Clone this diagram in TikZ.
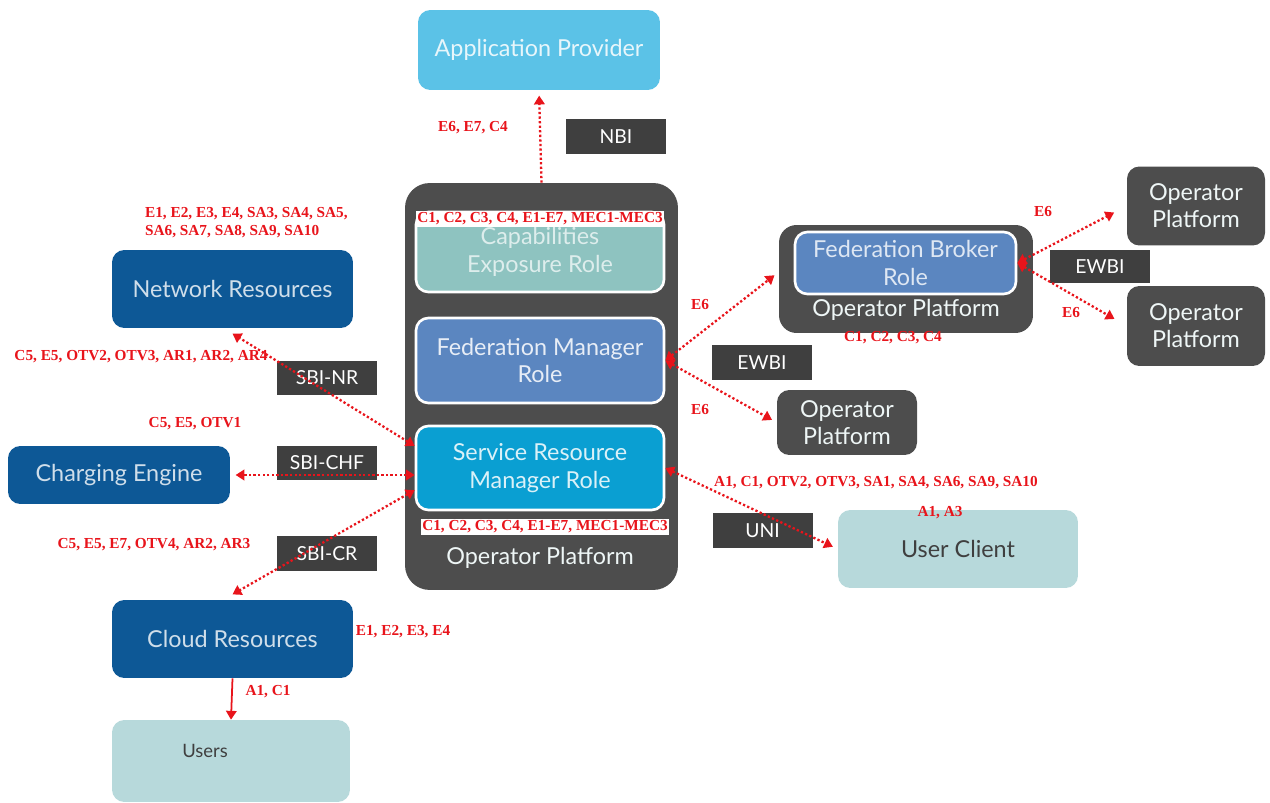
\documentclass[tikz,border=0pt]{standalone}
\usepackage{fontspec}
\setsansfont{Lato}
\newfontfamily\lblfont{Liberation Serif}
\usetikzlibrary{arrows.meta}
\definecolor{appblue}{HTML}{5BC2E7}
\definecolor{opgray}{HTML}{4D4D4D}
\definecolor{ifgray}{HTML}{3F3F3F}
\definecolor{capteal}{HTML}{8EC3C0}
\definecolor{fedblue}{HTML}{5B86C0}
\definecolor{srmblue}{HTML}{0A9FD2}
\definecolor{navy}{HTML}{0D5896}
\definecolor{paleteal}{HTML}{B7D9DB}
\definecolor{lblred}{HTML}{E8141B}

\begin{document}
\begin{tikzpicture}
[x=0.02cm,y=-0.02cm]
\tikzset{box/.style={rounded corners=7pt, align=center, text=white, font=\sffamily\fontsize{13.3}{15.5}\selectfont, inner sep=0pt}}
\tikzset{role/.style={box, draw=white, line width=1.5pt, minimum width=4.96cm}}
\tikzset{iface/.style={fill=ifgray, text=white, font=\sffamily\fontsize{11}{12}\selectfont, minimum width=2cm, minimum height=0.7cm, inner sep=0pt}}
\tikzset{lbl/.style={text=lblred, font=\lblfont\bfseries\fontsize{8.7}{10.5}\selectfont, inner sep=1pt}}
\tikzset{link/.style={lblred, line width=1.3pt, dash pattern=on 1.3pt off 1.3pt, {Triangle[width=6pt,length=5pt]}-{Triangle[width=6pt,length=5pt]}}}
\useasboundingbox (0,0) rectangle (1270,803);

% main operator platform and its roles
\node [box, fill=opgray, minimum width=5.46cm, minimum height=8.14cm, rounded corners=14pt] (op) at (541.5,386.5) {};
\node [box, text=white!85!capteal] at (540,558) {Operator Platform};
\node [role, fill=capteal, text=white!70!capteal, minimum height=1.6cm] (cap) at (540,252) {Capabilities\\Exposure Role};
\node [role, fill=fedblue, text=white!85!fedblue, minimum height=1.7cm] (fm) at (540,360.5) {Federation Manager\\Role};
\node [role, fill=srmblue, text=white!85!srmblue, minimum height=1.68cm] (srm) at (540,468) {Service Resource\\Manager Role};
\node [lbl, fill=white, minimum width=4.9cm] (capl) at (540,219) {C1, C2, C3, C4, E1-E7, MEC1-MEC3};
\node [lbl, fill=white] (opl) at (545,527) {C1, C2, C3, C4, E1-E7, MEC1-MEC3};

% north
\node [box, fill=appblue, text=white!85!appblue, minimum width=4.84cm, minimum height=1.6cm] (app) at (539,50) {Application Provider};
\node [iface] (nbi) at (616,137) {NBI};
\node [lbl] at (473,128) {E6, E7, C4};

% south side resources
\node [box, fill=navy, text=white!80!navy, minimum width=4.82cm, minimum height=1.56cm] (nr) at (232.5,289) {Network Resources};
\node [box, fill=navy, text=white!80!navy, minimum width=4.44cm, minimum height=1.16cm] (ce) at (119,475) {Charging Engine};
\node [box, fill=navy, text=white!80!navy, minimum width=4.82cm, minimum height=1.56cm] (cr) at (232.5,639) {Cloud Resources};
\node [box, fill=paleteal, minimum width=4.76cm, minimum height=1.64cm] (users) at (231,761) {};
\node [text=ifgray, font=\sffamily\fontsize{10.5}{12}\selectfont] (userst) at (205,751) {Users};
\node [iface] (sbinr) at (327,378) {SBI-NR};
\node [iface] (sbichf) at (327,463) {SBI-CHF};
\node [iface] (sbicr) at (327,553.5) {SBI-CR};
\node [lbl, align=left, anchor=north west] at (143,205) {E1, E2, E3, E4, SA3, SA4, SA5,\\SA6, SA7, SA8, SA9, SA10};
\node [lbl] at (141,357) {C5, E5, OTV2, OTV3, AR1, AR2, AR4};
\node [lbl] at (195,424) {C5, E5, OTV1};
\node [lbl] at (154,545) {C5, E5, E7, OTV4, AR2, AR3};
\node [lbl] at (403,632) {E1, E2, E3, E4};
\node [lbl] at (268,692) {A1, C1};

% east-west federation
\node [box, fill=opgray, minimum width=5.08cm, minimum height=2.16cm, rounded corners=10pt] (bp) at (906,279) {};
\node [role, fill=fedblue, text=white!80!fedblue, minimum width=4.42cm, minimum height=1.24cm] (fbr) at (905.5,263) {Federation Broker\\Role};
\node [box, text=white!85!capteal] at (906,310) {Operator Platform};
\node [lbl] at (893,338) {C1, C2, C3, C4};
\node [box, fill=opgray, text=white!85!capteal, minimum width=2.76cm, minimum height=1.58cm] (op1) at (1196,206) {Operator\\Platform};
\node [box, fill=opgray, text=white!85!capteal, minimum width=2.76cm, minimum height=1.6cm] (op2) at (1196,326) {Operator\\Platform};
\node [box, fill=opgray, text=white!85!capteal, minimum width=2.8cm, minimum height=1.3cm] (op3) at (847,422.5) {Operator\\Platform};
\node [iface] (ewbi) at (762,362.5) {EWBI};
\node [iface, minimum height=0.66cm] (ewbir) at (1100,266.5) {EWBI};
\node [lbl] at (700,305) {E6};
\node [lbl] at (700,410) {E6};
\node [lbl] at (1043,212) {E6};
\node [lbl] at (1071,313) {E6};

% user side
\node [box, fill=paleteal, text=ifgray, minimum width=4.8cm, minimum height=1.56cm] (uc) at (958,549) {User Client};
\node [iface] (uni) at (762.5,530.5) {UNI};
\node [lbl] at (876,483) {A1, C1, OTV2, OTV3, SA1, SA4, SA6, SA9, SA10};
\node [lbl] at (940,513) {A1, A3};

\draw [link, {Circle[length=0pt]}-{Triangle[width=6pt,length=5pt]}, shorten >=3pt] (op.north) -- (app.south);
\draw [link] (srm.170) -- ([yshift=-3pt]nr.south);
\draw [link] (srm.west |- ce.east) -- ([xshift=3pt]ce.east);
\draw [link] (srm.190) -- ([yshift=3pt]cr.north);
\draw [link, shorten >=3pt] (fm.east) -- ([yshift=4pt]bp.west);
\draw [link, shorten >=3pt] (fm.east) -- (op3.west);
\draw [link, shorten >=8pt] (fbr.east) -- (op1.west);
\draw [link, shorten >=8pt] (fbr.east) -- (op2.west);
\draw [link, shorten >=3pt] (srm.east) -- (uc.west);
\draw [lblred, line width=1pt, -{Triangle[width=6pt,length=5pt]}] (cr.south) -- (users.north);
\end{tikzpicture}
\end{document}
